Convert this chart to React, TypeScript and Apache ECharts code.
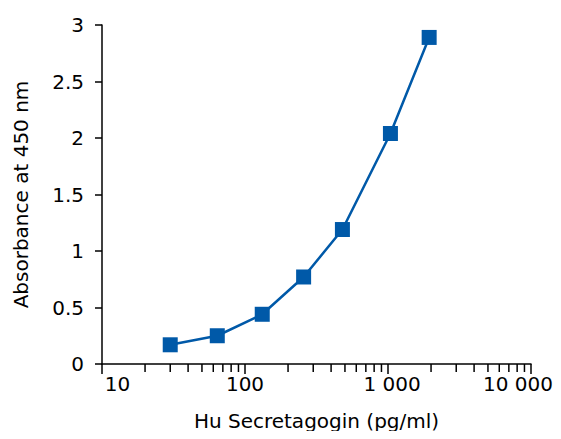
import React, { useEffect, useRef } from "react";
import * as echarts from "echarts";

const concentrations = [30, 64, 132, 257, 480, 1040, 1940];
const absorbance = [0.17, 0.25, 0.44, 0.77, 1.19, 2.04, 2.89];
const minorTickValues = [
  20, 30, 40, 50, 60, 70, 80, 90,
  200, 300, 400, 500, 600, 700, 800, 900,
  2000, 3000, 4000, 5000, 6000, 7000, 8000, 9000,
];
const xTitle = "Hu Secretagogin (pg/ml)";
const yTitle = "Absorbance at 450 nm";

const FONT = "DejaVu Sans";
const BLUE = "#0059a8";

function fmtThousands(v: number): string {
  const s = String(Math.round(v));
  return s.replace(/\B(?=(\d{3})+(?!\d))/g, " ");
}

export default function App() {
  const ref = useRef<HTMLDivElement>(null);
  useEffect(() => {
    if (!ref.current) return;
    const chart = echarts.init(ref.current, null, { renderer: "svg" });
    const labelRich = {
      fontFamily: FONT,
      fontSize: 20,
      color: "#000",
    };
    chart.setOption({
      animation: false,
      backgroundColor: "#fff",
      grid: { left: 102, right: 30, top: 25, bottom: 75, containLabel: false },
      xAxis: {
        type: "log",
        logBase: 10,
        min: 10,
        max: 10000,
        splitNumber: 3,
        name: xTitle,
        nameLocation: "middle",
        nameGap: 47,
        nameTextStyle: { fontFamily: FONT, fontSize: 20, color: "#000" },
        axisLine: { show: true, lineStyle: { color: "#000", width: 1.5 } },
        axisTick: { show: true, inside: false, length: 10, lineStyle: { color: "#000", width: 1.5 } },
        minorTick: { show: false },
        splitLine: { show: false },
        axisLabel: {
          margin: 10,
          hideOverlap: false,
          showMinLabel: true,
          showMaxLabel: true,
          fontFamily: FONT,
          fontSize: 20,
          color: "#000",
          formatter: (v: number) => {
            const r = Math.round(v);
            const s = fmtThousands(r);
            if (r === 10) return "{a|" + s + "}";
            if (r === 10000) return "{d|" + s + "}";
            if (r === 1000) return "{c|" + s + "}";
            return s;
          },
          rich: {
            a: { ...labelRich, padding: [0, 0, 0, 31] },
            c: { ...labelRich, padding: [0, 0, 0, 8] },
            d: { ...labelRich, padding: [0, 26, 0, 0] },
          },
        },
      },
      yAxis: {
        type: "value",
        min: 0,
        max: 3,
        interval: 0.5,
        name: yTitle,
        nameLocation: "middle",
        nameGap: 71,
        nameRotate: 90,
        nameTextStyle: { fontFamily: FONT, fontSize: 20, color: "#000" },
        axisLine: { show: true, lineStyle: { color: "#000", width: 1.5 } },
        axisTick: { show: true, inside: false, length: 7, lineStyle: { color: "#000", width: 1.5 } },
        splitLine: { show: false },
        axisLabel: {
          margin: 18,
          fontFamily: FONT,
          fontSize: 20,
          color: "#000",
        },
      },
      series: [
        {
          type: "custom",
          silent: true,
          clip: false,
          z: 1,
          data: minorTickValues.map((v) => [v, 0]),
          renderItem: (params: any, api: any) => {
            const p = api.coord([api.value(0), 0]);
            return {
              type: "line",
              shape: { x1: p[0], y1: p[1], x2: p[0], y2: p[1] + 8 },
              style: { stroke: "#000", lineWidth: 1.5 },
            };
          },
        },
        {
          type: "line",
          z: 3,
          data: concentrations.map((c, i) => [c, absorbance[i]]),
          symbol: "rect",
          symbolSize: 15,
          showSymbol: true,
          lineStyle: { color: BLUE, width: 2.5 },
          itemStyle: { color: BLUE },
        },
      ],
    });
    return () => chart.dispose();
  }, []);
  return <div ref={ref} style={{ width: 561, height: 439, margin: -8 }} />;
}
